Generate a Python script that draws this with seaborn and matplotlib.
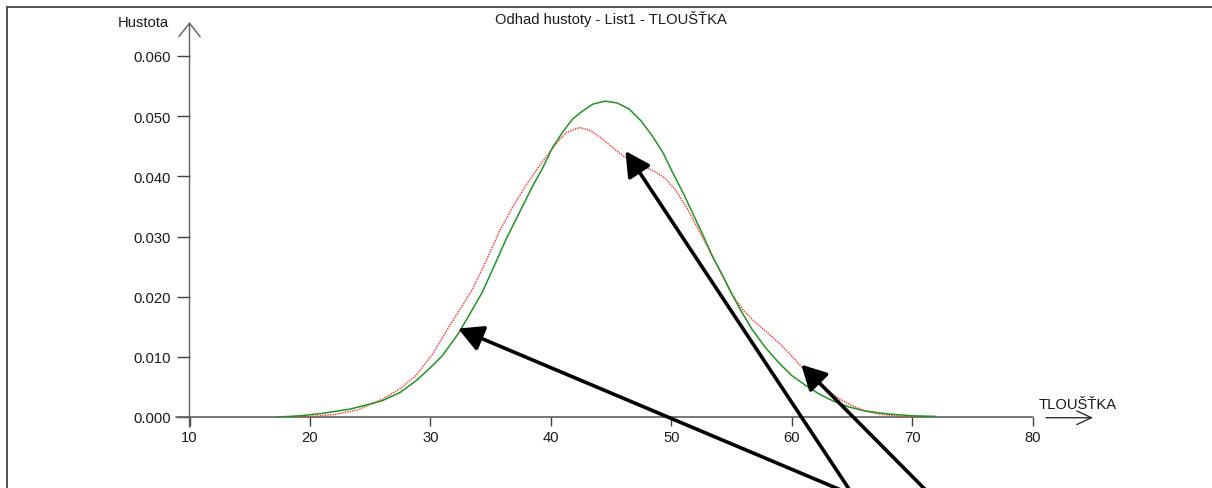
import numpy as np
import pandas as pd
import matplotlib
matplotlib.use("Agg")
import matplotlib.pyplot as plt
from matplotlib.lines import Line2D
import seaborn as sns

# ---- data ----
green_x = [17.3, 19.2, 21.0, 23.3, 24.5, 26.0, 27.5, 28.8, 30.0, 31.0, 32.3, 33.3, 34.3,
           35.3, 36.3, 37.4, 38.5, 39.3, 40.15, 41.0, 41.8, 42.6, 43.5, 44.5, 45.5, 46.5,
           47.5, 48.4, 49.3, 50.1, 51.0, 51.75, 52.6, 53.4, 54.3, 55.1, 55.9, 56.7, 57.8,
           58.9, 60.0, 61.2, 62.3, 63.4, 64.7, 66.1, 68.0, 70.0, 72.0]
green_y = [0.0, 0.0002, 0.0006, 0.0013, 0.0019, 0.0027, 0.0041, 0.0060, 0.0082, 0.0102,
           0.0138, 0.0172, 0.0207, 0.0251, 0.0296, 0.0340, 0.0384, 0.0413, 0.0448, 0.0474,
           0.0495, 0.0508, 0.0520, 0.0525, 0.0522, 0.0512, 0.0492, 0.0468, 0.0440, 0.0407,
           0.0372, 0.0340, 0.0304, 0.0268, 0.0234, 0.0202, 0.0173, 0.0146, 0.0116, 0.0091,
           0.0069, 0.0052, 0.0038, 0.0027, 0.0017, 0.0010, 0.0005, 0.0002, 0.0001]

red_x = [17.3, 20.0, 22.0, 24.0, 26.05, 27.5, 28.8, 30.2, 31.6, 32.6, 33.5, 34.6, 35.7,
         36.8, 37.9, 38.9, 39.9, 40.6, 41.3, 42.4, 43.2, 44.1, 45.0, 46.0, 47.0, 47.9,
         48.8, 49.55, 50.4, 51.2, 52.3, 53.4, 54.3, 55.1, 56.0, 57.0, 58.0, 58.9, 59.8,
         60.6, 61.7, 62.8, 63.9, 65.0, 66.1, 67.2, 69.0, 72.0]
red_y = [0.0, 0.0001, 0.0004, 0.0012, 0.0030, 0.0047, 0.0069, 0.0105, 0.0152, 0.0183,
         0.0213, 0.0258, 0.0307, 0.0348, 0.0384, 0.0413, 0.0440, 0.0458, 0.0473, 0.0481,
         0.0477, 0.0465, 0.0450, 0.0434, 0.0424, 0.0415, 0.0406, 0.0396, 0.0376, 0.0351,
         0.0310, 0.0268, 0.0233, 0.0202, 0.0177, 0.0157, 0.0140, 0.0124, 0.0106, 0.0088,
         0.0066, 0.0047, 0.0031, 0.0019, 0.0010, 0.0005, 0.0001, 0.0]

# arrows: head (x, y) and tail (x, y) in data units
arrow_heads = [(32.3, 0.0147), (46.2, 0.0442), (60.8, 0.0087)]
arrow_tails = [(67.6, -0.0151), (65.8, -0.0151), (72.6, -0.0151)]

x_ticks = [10, 20, 30, 40, 50, 60, 70, 80]
y_ticks = [0.000, 0.010, 0.020, 0.030, 0.040, 0.050, 0.060]
y_tick_labels = ["0.000", "0.010", "0.020", "0.030", "0.040", "0.050", "0.060"]

title = "Odhad hustoty - List1 - TLOUŠŤKA"
x_label = "TLOUŠŤKA"
y_label = "Hustota"

# ---- figure ----
sns.set_theme(style="white")
plt.rcParams["font.family"] = ["Liberation Sans", "DejaVu Sans"]
FS = 10.6

W, H = 1212, 489
fig = plt.figure(figsize=(W / 100, H / 100), dpi=100)
x0_px, x1_px = 189.5, 1032.5
y0_px, y1_px = 418.0, 57.0
ax = fig.add_axes([x0_px / W, (H - y0_px) / H, (x1_px - x0_px) / W, (y0_px - y1_px) / H])
ax.set_facecolor("white")

df_g = pd.DataFrame({"x": green_x, "y": green_y})
df_r = pd.DataFrame({"x": red_x, "y": red_y})
sns.lineplot(data=df_r, x="x", y="y", ax=ax, color="#ff2a2a", lw=1.0,
             linestyle=(0, (1, 0.8)), sort=False)
sns.lineplot(data=df_g, x="x", y="y", ax=ax, color="#1f951f", lw=1.1, sort=False)

ax.set_xlim(10, 80)
ax.set_ylim(0, 0.060)
for s in ax.spines.values():
    s.set_visible(False)
ax.set_xlabel("")
ax.set_ylabel("")

ax.set_xticks(x_ticks)
ax.set_xticklabels([str(v) for v in x_ticks])
ax.set_yticks(y_ticks)
ax.set_yticklabels(y_tick_labels)
ax.tick_params(axis="x", direction="out", length=6.5, width=1.0, color="#404040",
               pad=3, labelsize=FS, labelcolor="#1a1a1a", bottom=True)
ax.tick_params(axis="y", direction="out", length=9.5, width=1.0, color="#404040",
               pad=4, labelsize=FS, labelcolor="#1a1a1a", left=True)

axis_col = "#606060"
# x axis line
ax.plot([-0.016, 1.0], [0, 0], transform=ax.transAxes, color=axis_col, lw=1.2,
        clip_on=False, zorder=1)
# y axis line with open arrow
ax.annotate("", xy=(0, 1.094), xytext=(0, -0.028), xycoords="axes fraction",
            textcoords="axes fraction",
            arrowprops=dict(arrowstyle="->,head_length=0.7,head_width=0.55",
                            color=axis_col, lw=1.0, shrinkA=0, shrinkB=0,
                            mutation_scale=14))
# x-label arrow
ax.annotate("", xy=(1.0718, -0.002), xytext=(1.016, -0.002), xycoords="axes fraction",
            textcoords="axes fraction",
            arrowprops=dict(arrowstyle="->,head_length=0.75,head_width=0.35",
                            color="#303030", lw=1.0, shrinkA=0, shrinkB=0,
                            mutation_scale=14))

ax.text(1.054, 0.036, x_label, transform=ax.transAxes, ha="center", va="center",
        fontsize=FS, color="#1a1a1a")
ax.text(-0.0243, 1.094, y_label, transform=ax.transAxes, ha="right", va="center",
        fontsize=FS, color="#1a1a1a")
ax.text(0.5, 1.105, title, transform=ax.transAxes, ha="center", va="center",
        fontsize=FS, color="#1a1a1a")

# black annotation arrows
for (hx, hy), (tx, ty) in zip(arrow_heads, arrow_tails):
    ax.annotate("", xy=(hx, hy), xytext=(tx, ty), xycoords="data", textcoords="data",
                annotation_clip=False,
                arrowprops=dict(arrowstyle="-|>,head_length=0.75,head_width=0.4",
                                color="black", lw=2.6, shrinkA=0, shrinkB=0,
                                mutation_scale=20))

# outer frame (top and left border)
fig.add_artist(Line2D([7.3 / W, 1.0], [1 - 8.3 / H, 1 - 8.3 / H], transform=fig.transFigure,
                      color="#444444", lw=1.3))
fig.add_artist(Line2D([7.3 / W, 7.3 / W], [0.0, 1 - 8.3 / H], transform=fig.transFigure,
                      color="#444444", lw=1.3))

fig.savefig("out.png", dpi=100, facecolor="white")
